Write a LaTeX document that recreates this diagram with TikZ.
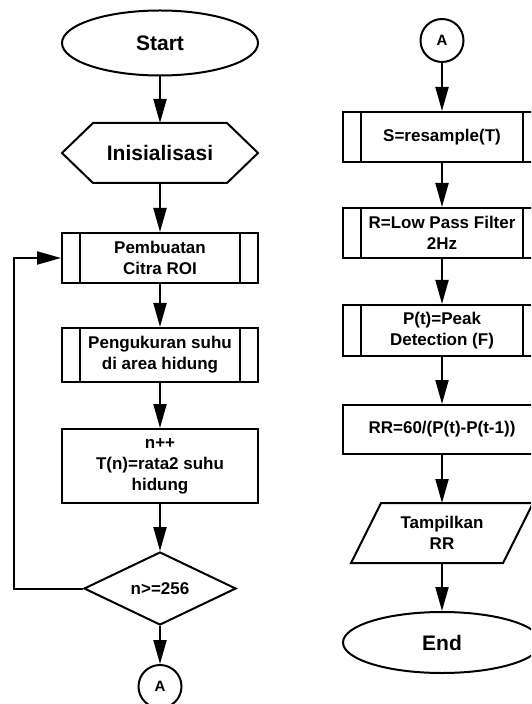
\documentclass[tikz,border=0pt]{standalone}
\usepackage{fontspec}
\setmainfont{Liberation Sans}
\usetikzlibrary{shapes.geometric,arrows.meta}

\tikzset{
  garis/.style={line width=1pt},
  panah/.style={garis,-{Triangle[width=6.5pt,length=12pt]}},
  teks/.style={font=\fontsize{8.5}{10.5}\selectfont\bfseries,align=center},
  terminal/.style={ellipse,draw,garis,inner sep=0pt,
    font=\fontsize{10.5}{12}\selectfont\bfseries},
  proses/.style={rectangle,draw,garis,inner sep=0pt,teks},
  keputusan/.style={diamond,draw,garis,inner sep=0pt,teks,
    minimum width=76pt,minimum height=36.5pt},
  konektor/.style={circle,draw,garis,inner sep=0pt,minimum size=21.5pt,
    font=\fontsize{7.5}{9}\selectfont\bfseries},
  polos/.style={rectangle,draw=none,inner sep=0pt,outer sep=0pt}
}

\begin{document}
\begin{tikzpicture}[x=0.5pt,y=-0.5pt]

\clip (0,0) rectangle (531,704);

% kolom kiri
\node[terminal, minimum width=98pt, minimum height=32.5pt] (start) at (160,43) {Start};
\node[polos, minimum width=98pt, minimum height=30pt,
  font=\fontsize{10.5}{12}\selectfont\bfseries] (init) at (160,153) {Inisialisasi};
\draw[garis] (init.west) -- ([xshift=15.5pt]init.north west) -- ([xshift=-15.5pt]init.north east)
  -- (init.east) -- ([xshift=-15.5pt]init.south east) -- ([xshift=15.5pt]init.south west) -- cycle;

\node[proses, minimum width=98pt, minimum height=25pt] (roi) at (160,258) {Pembuatan\\Citra ROI};
\node[proses, minimum width=98pt, minimum height=27pt] (suhu) at (160,355) {Pengukuran suhu\\di area hidung};
\node[proses, minimum width=98pt, minimum height=37pt] (rata) at (160,466) {n++\\T(n)=rata2 suhu\\hidung};
\node[keputusan] (cek) at (160,588.5) {n>=256};
\node[konektor] (a1) at (160,686.5) {A};

\draw[panah] (start) -- (init);
\draw[panah] (init) -- (roi);
\draw[panah] (roi) -- (suhu);
\draw[panah] (suhu) -- (rata);
\draw[panah] (rata) -- (cek);
\draw[panah] (cek) -- (a1);

\coordinate (balik) at (14,588.5);
\draw[panah] (cek.west) -- (balik) |- (roi.west);

% kolom kanan
\node[konektor] (a2) at (442,40.5) {A};
\node[proses, minimum width=99pt, minimum height=25pt] (res) at (442,137) {S=resample(T)};
\node[proses, minimum width=99pt, minimum height=25pt] (lpf) at (442,233) {R=Low Pass Filter\\2Hz};
\node[proses, minimum width=99pt, minimum height=25.5pt] (peak) at (442,330.5) {P(t)=Peak\\Detection (F)};
\node[proses, minimum width=99pt, minimum height=24.5pt] (rr) at (442,429.5) {RR=60/(P(t)-P(t-1))};
\node[polos, teks, minimum width=76pt, minimum height=30pt] (tampil) at (442,533) {Tampilkan\\RR};
\draw[garis] ([xshift=-7.5pt]tampil.south west) -- ([xshift=7.5pt]tampil.north west)
  -- ([xshift=7.5pt]tampil.north east) -- ([xshift=-7.5pt]tampil.south east) -- cycle;
\node[terminal, minimum width=99pt, minimum height=30.5pt] (end) at (442,642.5) {End};

\draw[panah] (a2) -- (res);
\draw[panah] (res) -- (lpf);
\draw[panah] (lpf) -- (peak);
\draw[panah] (peak) -- (rr);
\draw[panah] (rr) -- (tampil);
\draw[panah] (tampil) -- (end);

% garis dalam subproses
\foreach \n in {roi,suhu,res,lpf,peak} {
  \draw[garis] ([xshift=9.5pt]\n.north west) -- ([xshift=9.5pt]\n.south west);
  \draw[garis] ([xshift=-9.5pt]\n.north east) -- ([xshift=-9.5pt]\n.south east);
}

\end{tikzpicture}
\end{document}
